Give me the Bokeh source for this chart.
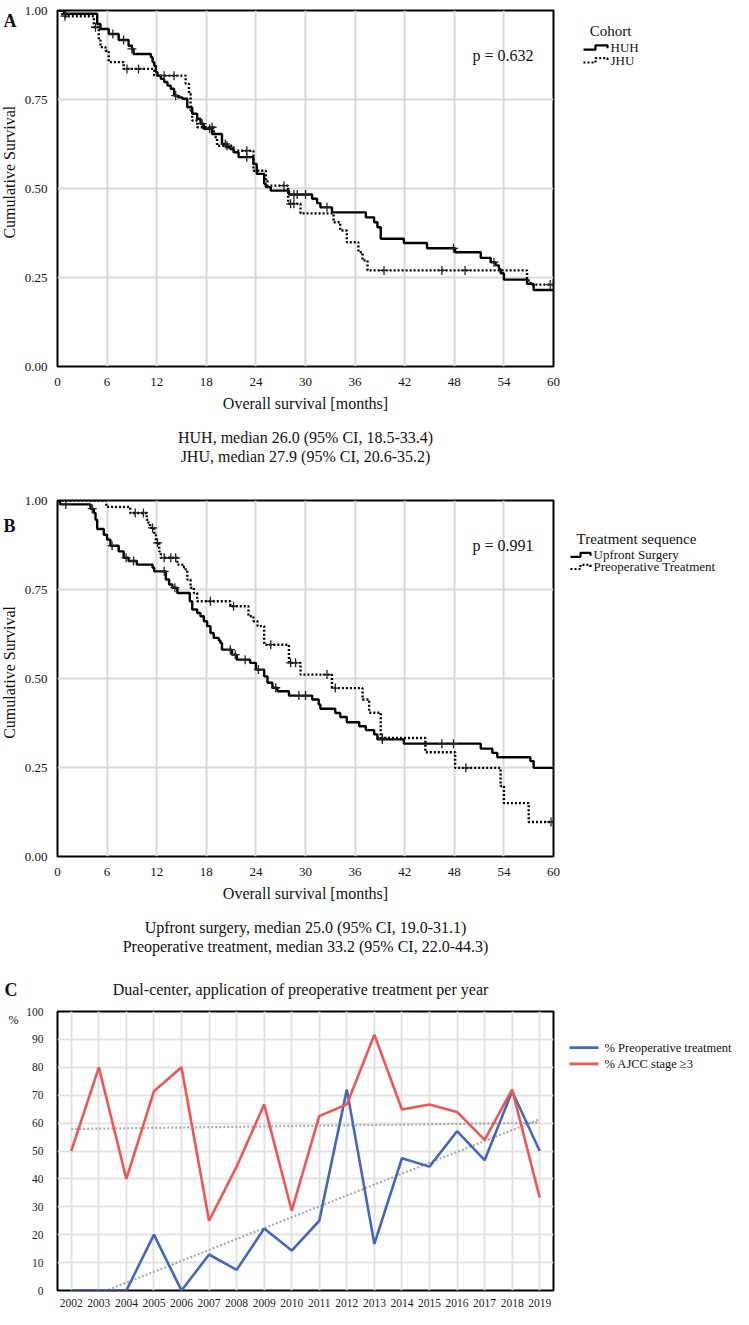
import math
import numpy as np
from bokeh.plotting import figure
from bokeh.models import Range1d, FixedTicker, NumeralTickFormatter, Label
from bokeh.layouts import column, row
from bokeh.embed import file_html
from bokeh.resources import INLINE
from bokeh.core.properties import value

SERIF = "Liberation Serif"

# ---------------- Panel A: cohort ----------------
HUH_T = [0.8, 4.8, 5.2, 6.2, 7.4, 8.6, 9.0, 9.2, 11.3, 11.5, 11.7, 11.9, 12.1, 12.5, 12.9, 13.3, 13.7, 14.1,
         14.6, 15.1, 15.7, 16.3, 16.9, 17.3, 17.7, 18.7, 19.9, 20.5, 20.9, 21.3, 21.9, 23.7, 24.1, 25.0, 25.2,
         25.8, 28.0, 30.8, 31.4, 31.8, 33.2, 37.3, 38.3, 38.7, 39.1, 41.9, 44.7, 48.1, 51.2, 52.4, 53.0, 53.4,
         53.6, 54.0, 56.8, 57.6]
HUH_S = [0.991, 0.962, 0.948, 0.934, 0.917, 0.901, 0.892, 0.878, 0.869, 0.855, 0.845, 0.827, 0.817, 0.808,
         0.799, 0.789, 0.780, 0.761, 0.756, 0.752, 0.728, 0.710, 0.696, 0.682, 0.668, 0.653, 0.625, 0.616,
         0.611, 0.602, 0.588, 0.569, 0.541, 0.513, 0.504, 0.494, 0.483, 0.471, 0.459, 0.447, 0.433, 0.419,
         0.405, 0.391, 0.359, 0.347, 0.332, 0.321, 0.305, 0.293, 0.284, 0.274, 0.262, 0.244, 0.232, 0.215]
HUH_CENS = [1.0, 6.7, 8.0, 9.0, 14.3, 17.5, 18.4, 20.3, 22.9, 28.6, 29.0, 30.0, 32.6, 47.9, 52.8]

JHU_T = [0.6, 4.4, 5.0, 5.2, 5.8, 6.2, 8.0, 11.7, 15.5, 15.9, 16.1, 16.3, 16.9, 18.9, 19.1, 19.3, 21.3, 23.7,
         25.2, 25.4, 27.9, 29.4, 33.4, 34.2, 35.0, 36.4, 36.9, 37.5, 56.8, 57.2]
JHU_S = [0.984, 0.953, 0.916, 0.897, 0.887, 0.855, 0.836, 0.817, 0.794, 0.766, 0.719, 0.691, 0.672, 0.653,
         0.644, 0.620, 0.606, 0.550, 0.522, 0.508, 0.457, 0.430, 0.405, 0.382, 0.349, 0.321, 0.298, 0.270,
         0.242, 0.230]
JHU_CENS = [0.9, 4.6, 8.4, 9.8, 12.9, 14.1, 18.7, 20.5, 22.9, 27.4, 28.2, 28.6, 39.5, 46.5, 49.3, 59.6]

# ---------------- Panel B: treatment sequence ----------------
UPF_T = [0.3, 4.0, 4.4, 4.6, 4.8, 5.6, 6.0, 6.4, 7.4, 8.0, 8.6, 9.6, 11.5, 11.7, 13.1, 13.5, 13.9, 14.5, 16.0,
         16.3, 16.9, 17.3, 17.7, 18.1, 18.5, 18.9, 19.5, 19.7, 19.9, 21.1, 21.7, 23.3, 24.0, 25.0, 25.4, 26.0,
         26.6, 28.0, 30.8, 31.6, 31.8, 33.6, 34.2, 35.0, 36.5, 37.3, 38.3, 38.7, 41.9, 51.2, 52.6, 53.2, 57.2,
         57.6]
UPF_S = [0.989, 0.977, 0.965, 0.946, 0.920, 0.904, 0.890, 0.873, 0.857, 0.839, 0.830, 0.820, 0.811, 0.801,
         0.778, 0.764, 0.755, 0.740, 0.717, 0.694, 0.684, 0.675, 0.661, 0.647, 0.628, 0.614, 0.607, 0.600,
         0.581, 0.567, 0.553, 0.544, 0.525, 0.506, 0.488, 0.474, 0.464, 0.452, 0.441, 0.427, 0.415, 0.403,
         0.392, 0.377, 0.366, 0.355, 0.343, 0.329, 0.317, 0.303, 0.291, 0.279, 0.268, 0.249]
UPF_CENS = [1.0, 4.2, 6.6, 8.3, 9.2, 12.9, 14.2, 20.9, 21.5, 22.7, 24.3, 26.4, 29.2, 30.0, 39.3, 46.5, 47.9]

PRE_T = [5.9, 8.8, 10.8, 11.0, 11.2, 11.7, 11.9, 12.3, 12.5, 14.5, 15.1, 15.5, 15.7, 16.1, 16.5, 16.9, 20.9,
         23.1, 23.7, 24.2, 25.0, 28.0, 29.4, 33.2, 36.9, 37.7, 39.1, 44.5, 48.1, 53.6, 54.0, 57.0]
PRE_S = [0.982, 0.965, 0.946, 0.937, 0.923, 0.904, 0.881, 0.857, 0.839, 0.820, 0.813, 0.806, 0.778, 0.755,
         0.740, 0.717, 0.703, 0.675, 0.661, 0.647, 0.595, 0.544, 0.511, 0.473, 0.441, 0.404, 0.333, 0.293,
         0.249, 0.198, 0.150, 0.097]
PRE_CENS = [9.4, 10.4, 11.5, 12.1, 12.9, 13.7, 14.3, 18.5, 21.3, 25.8, 28.2, 28.8, 32.6, 33.6, 39.3, 49.4, 59.7]

MONTH_TICKS = [0, 6, 12, 18, 24, 30, 36, 42, 48, 54, 60]
SURV_TICKS = [0.0, 0.25, 0.5, 0.75, 1.0]

# ---------------- Panel C: per year ----------------
YEARS = list(range(2002, 2020))
PREOP_PCT = [0, 0, 0, 20, 0, 12.9, 7.4, 22.2, 14.3, 25, 72, 16.7, 47.4, 44.4, 57.1, 46.7, 71.4, 50]
AJCC_PCT = [50, 80, 40, 71.4, 80, 25, 44.4, 66.7, 28.6, 62.5, 66.7, 91.7, 64.9, 66.7, 64.0, 54.0, 72.0, 33.3]
PCT_TICKS = list(range(0, 101, 10))

BLUE = "#4466BB"
RED = "#F05555"

STRIP_W = 20
MAIN_W = 542      # 37 left border + 496 frame + 9 right border
SIDE_W = 733 - STRIP_W - MAIN_W
SIDE_X0 = STRIP_W + MAIN_W


def step_xy(t, s, end=60.0):
    return [0.0] + list(t) + [end], [1.0] + list(s) + [s[-1]]


def surv_at(t, s, ct):
    idx = np.searchsorted(np.asarray(t), np.asarray(ct), side="right") - 1
    return [1.0 if i < 0 else s[i] for i in idx]


def canvas(w, h):
    p = figure(width=w, height=h, x_range=Range1d(0, w), y_range=Range1d(h, 0), min_border=0,
               toolbar_location=None, output_backend="svg", x_axis_type=None, y_axis_type=None)
    p.outline_line_color = None
    return p


def txt(p, x, y, s, size="16px", align="left", style="normal", angle=0.0):
    p.text(x=[x], y=[y], text=[s], text_font=value(SERIF), text_font_size=value(size),
           text_align=align, text_baseline="middle", text_font_style=style, angle=angle,
           text_color="#111111")


def step_symbol(p, x0, w, y, dash, color="black", lw=2.2):
    p.line([x0, x0 + w / 2, x0 + w / 2, x0 + w, x0 + w], [y + 2.5, y + 2.5, y - 2.5, y - 2.5, y + 1],
           line_color=color, line_width=lw, line_dash=dash)


def km_main(height, top, bottom, curves, p_text):
    p = figure(width=MAIN_W, height=height, x_range=Range1d(0, 60), y_range=Range1d(0, 1),
               output_backend="svg", toolbar_location=None,
               min_border_left=37, min_border_right=9, min_border_top=top, min_border_bottom=bottom)
    p.xaxis.ticker = FixedTicker(ticks=MONTH_TICKS)
    p.yaxis.ticker = FixedTicker(ticks=SURV_TICKS)
    p.yaxis.formatter = NumeralTickFormatter(format="0.00")
    for ax in p.axis:
        ax.axis_line_color = None
        ax.major_tick_line_color = None
        ax.minor_tick_line_color = None
        ax.major_label_text_font = SERIF
        ax.major_label_text_font_size = "13px"
        ax.major_label_text_color = "#111111"
    p.xaxis.major_label_standoff = 5
    p.yaxis.major_label_standoff = 4
    p.xaxis.axis_label = "Overall survival [months]"
    p.xaxis.axis_label_text_font = SERIF
    p.xaxis.axis_label_text_font_style = "normal"
    p.xaxis.axis_label_text_font_size = "16px"
    p.xaxis.axis_label_text_color = "#111111"
    p.xaxis.axis_label_standoff = 6
    p.xgrid.ticker = FixedTicker(ticks=MONTH_TICKS)
    p.ygrid.ticker = FixedTicker(ticks=SURV_TICKS)
    p.grid.grid_line_color = "#d9d9d9"
    p.grid.grid_line_width = 2
    p.outline_line_color = "black"
    p.outline_line_width = 2
    p.outline_line_alpha = 1
    for t, s, cens, dash in curves:
        xs, ys = step_xy(t, s)
        p.step(xs, ys, mode="after", line_color="black", line_width=2.4, line_dash=dash)
        p.scatter(cens, surv_at(t, s, cens), marker="cross", size=9, line_color="#222222", line_width=1.3)
    frame_h = height - top - bottom
    p.add_layout(Label(x=415, y=frame_h - 45, x_units="screen", y_units="screen", text=p_text,
                       text_font=SERIF, text_font_size="16px", text_baseline="middle",
                       text_color="#111111"))
    return p


# ======== Panel A (page y 0..466) ========
A_H = 414
mainA = km_main(A_H, 10, 48, [(HUH_T, HUH_S, HUH_CENS, "solid"), (JHU_T, JHU_S, JHU_CENS, "2 2")],
                "p = 0.632")
stripA = canvas(STRIP_W, A_H)
txt(stripA, 3, 12.5, "A", size="18px", style="bold")
txt(stripA, 9, 188, "Cumulative Survival", size="16px", align="center", angle=math.pi / 2)
sideA = canvas(SIDE_W, A_H)
txt(sideA, 610 - SIDE_X0, 24, "Cohort", size="15px", align="center")
step_symbol(sideA, 583 - SIDE_X0, 24, 43, "solid")
step_symbol(sideA, 583 - SIDE_X0, 24, 58, "2 2")
txt(sideA, 610 - SIDE_X0, 43, "HUH", size="13px")
txt(sideA, 610 - SIDE_X0, 58, "JHU", size="13px")
capA = canvas(733, 52)
txt(capA, 305, 23, "HUH, median 26.0 (95% CI, 18.5-33.4)", size="16px", align="center")
txt(capA, 305, 42, "JHU, median 27.9 (95% CI, 20.6-35.2)", size="16px", align="center")

# ======== Panel B (page y 466..962) ========
B_Y0 = 466
B_H = 439
mainB = km_main(B_H, 34, 49, [(UPF_T, UPF_S, UPF_CENS, "solid"), (PRE_T, PRE_S, PRE_CENS, "2 2")],
                "p = 0.991")
stripB = canvas(STRIP_W, B_H)
txt(stripB, 3, 497 - B_Y0, "B", size="18px", style="bold")
txt(stripB, 9, 678 - B_Y0, "Cumulative Survival", size="16px", align="center", angle=math.pi / 2)
sideB = canvas(SIDE_W, B_H)
txt(sideB, 636 - SIDE_X0, 513 - B_Y0, "Treatment sequence", size="15px", align="center")
step_symbol(sideB, 570 - SIDE_X0, 20, 533 - B_Y0, "solid")
step_symbol(sideB, 570 - SIDE_X0, 20, 548 - B_Y0, "2 2")
txt(sideB, 593 - SIDE_X0, 533 - B_Y0, "Upfront Surgery", size="13px")
txt(sideB, 593 - SIDE_X0, 548 - B_Y0, "Preoperative Treatment", size="13px")
capB = canvas(733, 57)
txt(capB, 305, 22, "Upfront surgery, median 25.0 (95% CI, 19.0-31.1)", size="16px", align="center")
txt(capB, 305, 41, "Preoperative treatment, median 33.2 (95% CI, 22.0-44.3)", size="16px", align="center")

# ======== Panel C (page y 962..1309) ========
C_HEAD_Y0 = 962
headC = canvas(733, 38)
txt(headC, 4, 989 - C_HEAD_Y0, "C", size="18px", style="bold")
txt(headC, 300, 989 - C_HEAD_Y0, "Dual-center, application of preoperative treatment per year",
    size="16px", align="center")

C_Y0 = 1000
C_H = 309
mainC = figure(width=MAIN_W, height=C_H, x_range=Range1d(2001.5, 2019.5), y_range=Range1d(0, 100),
               output_backend="svg", toolbar_location=None,
               min_border_left=37, min_border_right=9, min_border_top=11, min_border_bottom=15)
mainC.xaxis.ticker = FixedTicker(ticks=YEARS)
mainC.yaxis.ticker = FixedTicker(ticks=PCT_TICKS)
for ax in mainC.axis:
    ax.axis_line_color = None
    ax.major_tick_line_color = None
    ax.minor_tick_line_color = None
    ax.major_label_text_font = SERIF
    ax.major_label_text_font_size = "11.5px"
    ax.major_label_text_color = "#222222"
mainC.xaxis.major_label_standoff = 2
mainC.yaxis.major_label_standoff = 8
mainC.xgrid.ticker = FixedTicker(ticks=YEARS)
mainC.ygrid.ticker = FixedTicker(ticks=PCT_TICKS)
mainC.grid.grid_line_color = "#e3e3e3"
mainC.grid.grid_line_width = 2
mainC.outline_line_color = "black"
mainC.outline_line_width = 2
mainC.outline_line_alpha = 1

yr = np.array(YEARS, dtype=float)
for series in (PREOP_PCT, AJCC_PCT):
    k, b = np.polyfit(yr, np.array(series, dtype=float), 1)
    mainC.line(yr, k * yr + b, line_color="#ababab", line_width=2.2, line_dash="2 2")
mainC.line(YEARS, PREOP_PCT, line_color=BLUE, line_width=2.6)
mainC.line(YEARS, AJCC_PCT, line_color=RED, line_width=2.6)

stripC = canvas(STRIP_W, C_H)
txt(stripC, 8, 1009 - C_Y0, "%", size="12px")
sideC = canvas(SIDE_W, C_H)
sideC.line([569 - SIDE_X0, 598 - SIDE_X0], [1040 - C_Y0, 1040 - C_Y0], line_color=BLUE, line_width=2.6)
sideC.line([569 - SIDE_X0, 598 - SIDE_X0], [1058 - C_Y0, 1058 - C_Y0], line_color=RED, line_width=2.6)
txt(sideC, 604 - SIDE_X0, 1040 - C_Y0, "% Preoperative treatment", size="12.5px")
txt(sideC, 604 - SIDE_X0, 1058 - C_Y0, "% AJCC stage \u22653", size="12.5px")

layout = column(
    row(stripA, mainA, sideA), capA,
    row(stripB, mainB, sideB), capB,
    headC,
    row(stripC, mainC, sideC),
)
open("out.html", "w").write(file_html(layout, INLINE))
